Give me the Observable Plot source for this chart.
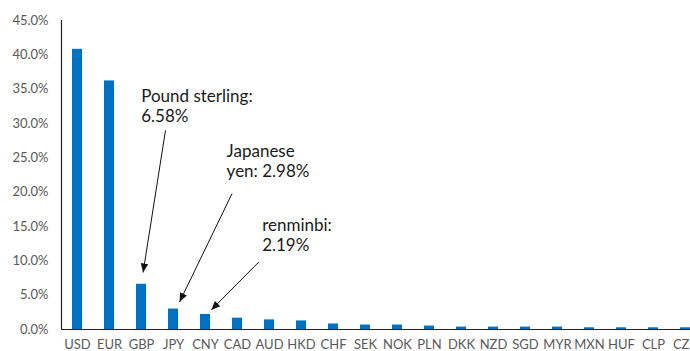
<!DOCTYPE html>
<html>
<head>
<meta charset="utf-8">
<script src="https://cdn.jsdelivr.net/npm/d3@7"></script>
<script src="https://cdn.jsdelivr.net/npm/@observablehq/plot@0.6"></script>
<style>
  html, body { margin: 0; padding: 0; background: #fff; overflow: hidden; width: 690px; height: 351px; }
  #chart { width: 690px; height: 351px; overflow: hidden; }
  #chart svg { display: block; max-width: none !important; }
</style>
</head>
<body>
<div id="chart"></div>
<script>
const currencies = ["USD","EUR","GBP","JPY","CNY","CAD","AUD","HKD","CHF","SEK","NOK","PLN","DKK","NZD","SGD","MYR","MXN","HUF","CLP","CZK"];
const shares = [40.8, 36.2, 6.58, 2.98, 2.19, 1.65, 1.4, 1.25, 0.8, 0.65, 0.65, 0.5, 0.35, 0.35, 0.35, 0.35, 0.25, 0.25, 0.25, 0.25];
const yTicks = [0, 5, 10, 15, 20, 25, 30, 35, 40, 45];

// annotation labels (position in category-index / percent units)
const noteText = ["Pound sterling:\n6.58%", "Japanese\nyen: 2.98%", "renminbi:\n2.19%"];
const noteX = [1.99, 4.66, 5.77];
const noteY = [35.25, 27.3, 16.45];
// arrows: start and end in category-index / percent units
const arrowX1 = [2.75, 4.83, 5.66];
const arrowY1 = [29.0, 19.8, 9.8];
const arrowX2 = [2.05, 3.19, 4.18];
const arrowY2 = [8.3, 4.0, 2.85];

const bars = currencies.map((c, i) => ({i, c, v: shares[i]}));
const notes = noteText.map((t, k) => ({t, x: noteX[k], y: noteY[k]}));
const arrows = arrowX1.map((x, k) => ({x1: x, y1: arrowY1[k], x2: arrowX2[k], y2: arrowY2[k]}));

const font = "Lato, 'Open Sans', sans-serif";

const plot = Plot.plot({
  width: 702,
  height: 351,
  marginLeft: 61,
  marginRight: 1,
  marginTop: 20,
  marginBottom: 22,
  style: {fontFamily: font, fontSize: "13px", color: "#595959", background: "#fff", maxWidth: "none"},
  x: {type: "linear", domain: [-0.5, currencies.length - 0.5]},
  y: {domain: [0, 45]},
  marks: [
    Plot.rectY(bars, {x1: d => d.i - 0.5, x2: d => d.i + 0.5, y: "v", fill: "#0070C0", insetLeft: 11, insetRight: 11}),
    Plot.ruleY([0], {stroke: "#222", strokeWidth: 1.2}),
    Plot.ruleX([-0.5], {y1: 0, y2: 45, stroke: "#222", strokeWidth: 1.2}),
    Plot.axisY({ticks: yTicks, tickSize: 0, tickPadding: 13, tickFormat: d => d.toFixed(1) + "%", label: null, fill: "#595959"}),
    Plot.axisX({ticks: d3.range(currencies.length), tickSize: 0, tickPadding: 10, tickFormat: i => currencies[i], label: null, fill: "#595959"}),
    Plot.link(arrows, {x1: "x1", y1: "y1", x2: "x2", y2: "y2", stroke: "#111", strokeWidth: 1, markerEnd: "arrow"}),
    Plot.text(notes, {x: "x", y: "y", text: "t", textAnchor: "start", lineAnchor: "top", lineHeight: 1.2, fontSize: 17, fill: "#1a1a1a", fontFamily: font})
  ]
});

// make the arrowheads solid triangles
d3.select(plot).selectAll("marker").each(function() {
  const m = d3.select(this);
  m.attr("viewBox", "-10 -5 10 10").attr("markerWidth", 9).attr("markerHeight", 9)
   .attr("fill", "#111").attr("stroke", "none");
  m.selectAll("path").attr("d", "M-10,-4.2L0,0L-10,4.2Z").attr("fill", "#111").attr("stroke", "none");
});

document.getElementById("chart").appendChild(plot);
</script>
</body>
</html>
